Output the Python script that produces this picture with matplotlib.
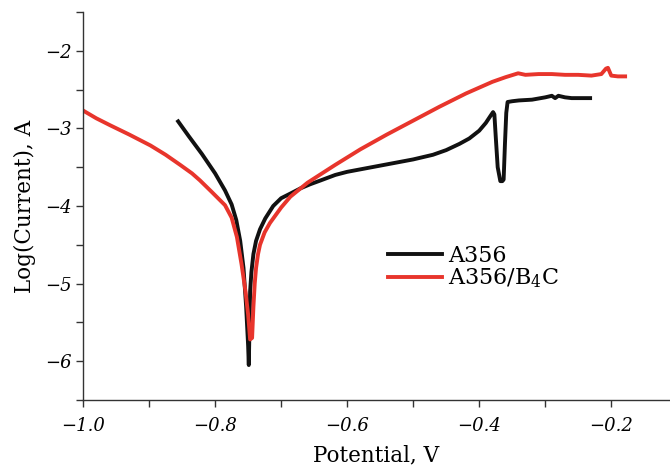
import matplotlib.pyplot as plt
from matplotlib.ticker import MultipleLocator

# A356 polarisation curve (potential V, log current)
a356_v = [-0.856, -0.84, -0.82, -0.80, -0.785, -0.775, -0.768, -0.762, -0.757, -0.753,
          -0.750, -0.749, -0.748, -0.747, -0.745, -0.742, -0.738, -0.732, -0.724, -0.712,
          -0.70, -0.686, -0.67, -0.656, -0.64, -0.618, -0.60, -0.55, -0.50, -0.47,
          -0.45, -0.43, -0.415, -0.40, -0.39, -0.383, -0.379, -0.377, -0.375, -0.372,
          -0.368, -0.365, -0.363, -0.361, -0.359, -0.357, -0.350, -0.34, -0.32, -0.30,
          -0.29, -0.285, -0.28, -0.27, -0.26, -0.25, -0.232]
a356_i = [-2.91, -3.10, -3.33, -3.58, -3.80, -3.98, -4.18, -4.45, -4.80, -5.30,
          -5.80, -6.05, -5.60, -5.10, -4.85, -4.62, -4.45, -4.30, -4.16, -4.00,
          -3.90, -3.84, -3.77, -3.72, -3.67, -3.60, -3.56, -3.48, -3.40, -3.34,
          -3.28, -3.20, -3.13, -3.03, -2.93, -2.84, -2.79, -2.82, -3.10, -3.50,
          -3.68, -3.68, -3.66, -3.20, -2.80, -2.66, -2.65, -2.64, -2.63, -2.60,
          -2.58, -2.61, -2.58, -2.60, -2.61, -2.61, -2.61]

# A356/B4C polarisation curve
b4c_v = [-1.0, -0.98, -0.959, -0.93, -0.898, -0.875, -0.853, -0.835, -0.823, -0.805,
         -0.785, -0.775, -0.767, -0.760, -0.754, -0.750, -0.747, -0.744, -0.742, -0.740,
         -0.738, -0.735, -0.732, -0.725, -0.717, -0.70, -0.686, -0.66, -0.618, -0.58,
         -0.54, -0.50, -0.46, -0.42, -0.38, -0.36, -0.341, -0.33, -0.31, -0.29,
         -0.27, -0.25, -0.23, -0.215, -0.208, -0.205, -0.20, -0.19, -0.179]
b4c_i = [-2.77, -2.87, -2.96, -3.08, -3.22, -3.34, -3.47, -3.58, -3.67, -3.82,
         -3.99, -4.15, -4.40, -4.75, -5.10, -5.40, -5.72, -5.70, -5.30, -5.00,
         -4.80, -4.62, -4.50, -4.34, -4.22, -4.02, -3.88, -3.70, -3.47, -3.27,
         -3.08, -2.90, -2.72, -2.55, -2.40, -2.34, -2.29, -2.31, -2.30, -2.30,
         -2.31, -2.31, -2.32, -2.30, -2.23, -2.22, -2.32, -2.33, -2.33]

plt.rcParams['font.family'] = 'DejaVu Serif'
plt.rcParams['mathtext.fontset'] = 'dejavuserif'

fig = plt.figure(figsize=(6.7, 4.7), dpi=100)
ax = fig.add_axes([0.124, 0.149, 0.876, 0.8255])

ax.plot(a356_v, a356_i, color='#111111', lw=2.8, label='A356')
ax.plot(b4c_v, b4c_i, color='#e8352c', lw=2.8, label='A356/B$_4$C')

ax.set_xlim(-1.0, -0.111)
ax.set_ylim(-6.5, -1.5)
ax.xaxis.set_major_locator(MultipleLocator(0.2))
ax.xaxis.set_minor_locator(MultipleLocator(0.1))
ax.yaxis.set_major_locator(MultipleLocator(1))
ax.yaxis.set_minor_locator(MultipleLocator(0.5))
ax.xaxis.set_major_formatter(plt.FuncFormatter(lambda v, p: '\u2212%.1f' % abs(v)))
ax.yaxis.set_major_formatter(plt.FuncFormatter(lambda v, p: '\u2212%d' % abs(v)))

for s in ['top', 'right']:
    ax.spines[s].set_visible(False)
for s in ['left', 'bottom']:
    ax.spines[s].set_color('#333333')
    ax.spines[s].set_linewidth(1.0)

ax.tick_params(which='both', direction='out', length=5, width=1, color='#333333')
ax.tick_params(axis='x', pad=7)
for lab in ax.get_xticklabels() + ax.get_yticklabels():
    lab.set_fontstyle('italic')
    lab.set_fontsize(13)

ax.set_xlabel('Potential, V', fontsize=15.5, labelpad=7)
ax.set_ylabel('Log(Current), A', fontsize=15.5, labelpad=6)

ax.legend(loc='upper left', bbox_to_anchor=(0.52, 0.40), frameon=False,
          borderpad=0, borderaxespad=0, fontsize=16,
          handlelength=2.4, handletextpad=0.3, labelspacing=0.0)

fig.savefig('out.png', dpi=100)
